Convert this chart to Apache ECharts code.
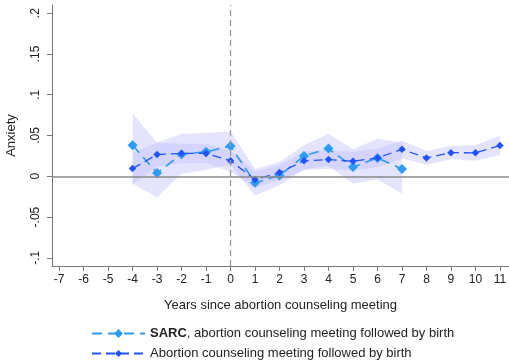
<!DOCTYPE html>
<html>
<head>
<meta charset="utf-8">
<script src="https://cdn.jsdelivr.net/npm/echarts@6/dist/echarts.min.js"></script>
<style>html,body{margin:0;padding:0;background:#fff;}#c{width:509px;height:364px;}</style>
</head>
<body>
<div id="c"></div>
<script>
// ---- data ----
var sarcYears = [-4, -3, -2, -1, 0, 1, 2, 3, 4, 5, 6, 7];
var sarcEst  = [0.038, 0.004, 0.027, 0.030, 0.037, -0.008, 0.001, 0.025, 0.034, 0.0115, 0.0225, 0.009];
var sarcLo   = [-0.009, -0.026, 0.003, 0.008, 0.014, -0.024, -0.011, 0.008, 0.013, -0.009, -0.004, -0.021];
var sarcHi   = [0.077, 0.041, 0.052, 0.053, 0.055, 0.009, 0.0176, 0.038, 0.052, 0.033, 0.046, 0.041];

var regYears = [-4, -3, -2, -1, 0, 1, 2, 3, 4, 5, 6, 7, 8, 9, 10, 11];
var regEst   = [0.0094, 0.0266, 0.028, 0.028, 0.019, -0.004, 0.0045, 0.019, 0.0205, 0.0184, 0.0225, 0.033, 0.0225, 0.029, 0.0287, 0.0377];
var regLo    = [-0.010, 0.012, 0.016, 0.016, 0.006, -0.014, -0.005, 0.008, 0.009, 0.007, 0.011, 0.022, 0.014, 0.021, 0.019, 0.026];
var regHi    = [0.029, 0.041, 0.040, 0.040, 0.032, 0.006, 0.014, 0.030, 0.032, 0.030, 0.034, 0.044, 0.031, 0.037, 0.038, 0.050];

var xTicks = [-7, -6, -5, -4, -3, -2, -1, 0, 1, 2, 3, 4, 5, 6, 7, 8, 9, 10, 11];
var yTicks = [-0.1, -0.05, 0, 0.05, 0.1, 0.15, 0.2];
var yTickLabels = {'-0.1': '-.1', '-0.05': '-.05', '0': '0', '0.05': '.05', '0.1': '.1', '0.15': '.15', '0.2': '.2'};

var sarcName = 'SARC, abortion counseling meeting followed by birth';
var regName = 'Abortion counseling meeting followed by birth';

// ---- build ----
function pairs(xs, ys) { return xs.map(function (x, i) { return [x, ys[i]]; }); }

var SARC_COLOR = '#2C9BFA';
var REG_COLOR = '#1F55FF';
var BAND = 'rgba(190,190,255,0.42)';
var FONT = '"Liberation Sans", Arial, sans-serif';

var chart = echarts.init(document.getElementById('c'), null, {renderer: 'canvas'});

function bandSeries(xs, lo, hi) {
  var rows = xs.map(function (x, i) { return [x, lo[i], hi[i]]; });
  return {
    type: 'custom', silent: true, z: 1,
    data: [rows[0]],
    encode: {x: 0, y: [1, 2]},
    renderItem: function (params, api) {
      var top = rows.map(function (r) { return api.coord([r[0], r[2]]); });
      var bot = rows.map(function (r) { return api.coord([r[0], r[1]]); }).reverse();
      return {
        type: 'polygon',
        shape: {points: top.concat(bot)},
        style: {fill: BAND, stroke: null}
      };
    }
  };
}

var option = {
  animation: false,
  backgroundColor: '#fff',
  grid: {left: 52, right: 0, top: 5, bottom: 98, containLabel: false, outerBoundsMode: 'none'},
  legend: [
    {
      data: [sarcName],
      left: 86, top: 322, itemWidth: 53, itemHeight: 11, itemGap: 3,
      textStyle: {fontFamily: FONT, fontSize: 13, color: '#222',
        rich: {b: {fontFamily: FONT, fontSize: 13, fontWeight: 'bold', color: '#222'}}},
      formatter: function () { return '{b|SARC}, abortion counseling meeting followed by birth'; }
    },
    {
      data: [regName],
      left: 86, top: 342, itemWidth: 53, itemHeight: 9, itemGap: 3,
      textStyle: {fontFamily: FONT, fontSize: 13, color: '#222'}
    }
  ],
  xAxis: {
    type: 'value', min: -7.29, max: 11.37,
    name: 'Years since abortion counseling meeting', nameLocation: 'middle', nameGap: 33,
    nameTextStyle: {fontFamily: FONT, fontSize: 13, color: '#222'},
    axisLine: {show: true, onZero: false, lineStyle: {color: '#777', width: 1}},
    axisTick: {show: true, length: 5, customValues: xTicks, lineStyle: {color: '#777'}},
    axisLabel: {customValues: xTicks, margin: 8, fontFamily: FONT, fontSize: 12, color: '#222'},
    splitLine: {show: false}
  },
  yAxis: {
    type: 'value', min: -0.11, max: 0.21,
    name: 'Anxiety', nameLocation: 'middle', nameGap: 34, nameRotate: 90,
    nameTextStyle: {fontFamily: FONT, fontSize: 13, color: '#222'},
    axisLine: {show: true, onZero: false, lineStyle: {color: '#777', width: 1}},
    axisTick: {show: true, length: 5, customValues: yTicks, lineStyle: {color: '#777'}},
    axisLabel: {customValues: yTicks, rotate: 90, margin: 10, fontFamily: FONT, fontSize: 12, color: '#222',
      formatter: function (v) { var k = String(+v.toFixed(2)); return yTickLabels[k] !== undefined ? yTickLabels[k] : k; }},
    splitLine: {show: false}
  },
  series: [
    bandSeries(sarcYears, sarcLo, sarcHi),
    bandSeries(regYears, regLo, regHi),
    {
      type: 'line', name: regName, data: pairs(regYears, regEst),
      symbol: 'diamond', symbolSize: 7.5, z: 4,
      itemStyle: {color: REG_COLOR},
      lineStyle: {color: REG_COLOR, width: 1.3, type: [9, 5]},
      markLine: {
        silent: true, symbol: 'none', label: {show: false},
        lineStyle: {color: '#8a8a8a', width: 1.5, type: 'solid'},
        data: [{yAxis: 0}]
      }
    },
    {
      type: 'line', name: sarcName, data: pairs(sarcYears, sarcEst),
      symbol: 'diamond', symbolSize: 10, z: 3,
      itemStyle: {color: SARC_COLOR},
      lineStyle: {color: SARC_COLOR, width: 1.6, type: [10, 6]},
      markLine: {
        silent: true, symbol: 'none', label: {show: false},
        lineStyle: {color: '#9a9a9a', width: 1.3, type: [6, 4]},
        data: [{xAxis: 0}]
      }
    }
  ]
};
chart.setOption(option);
</script>
</body>
</html>
